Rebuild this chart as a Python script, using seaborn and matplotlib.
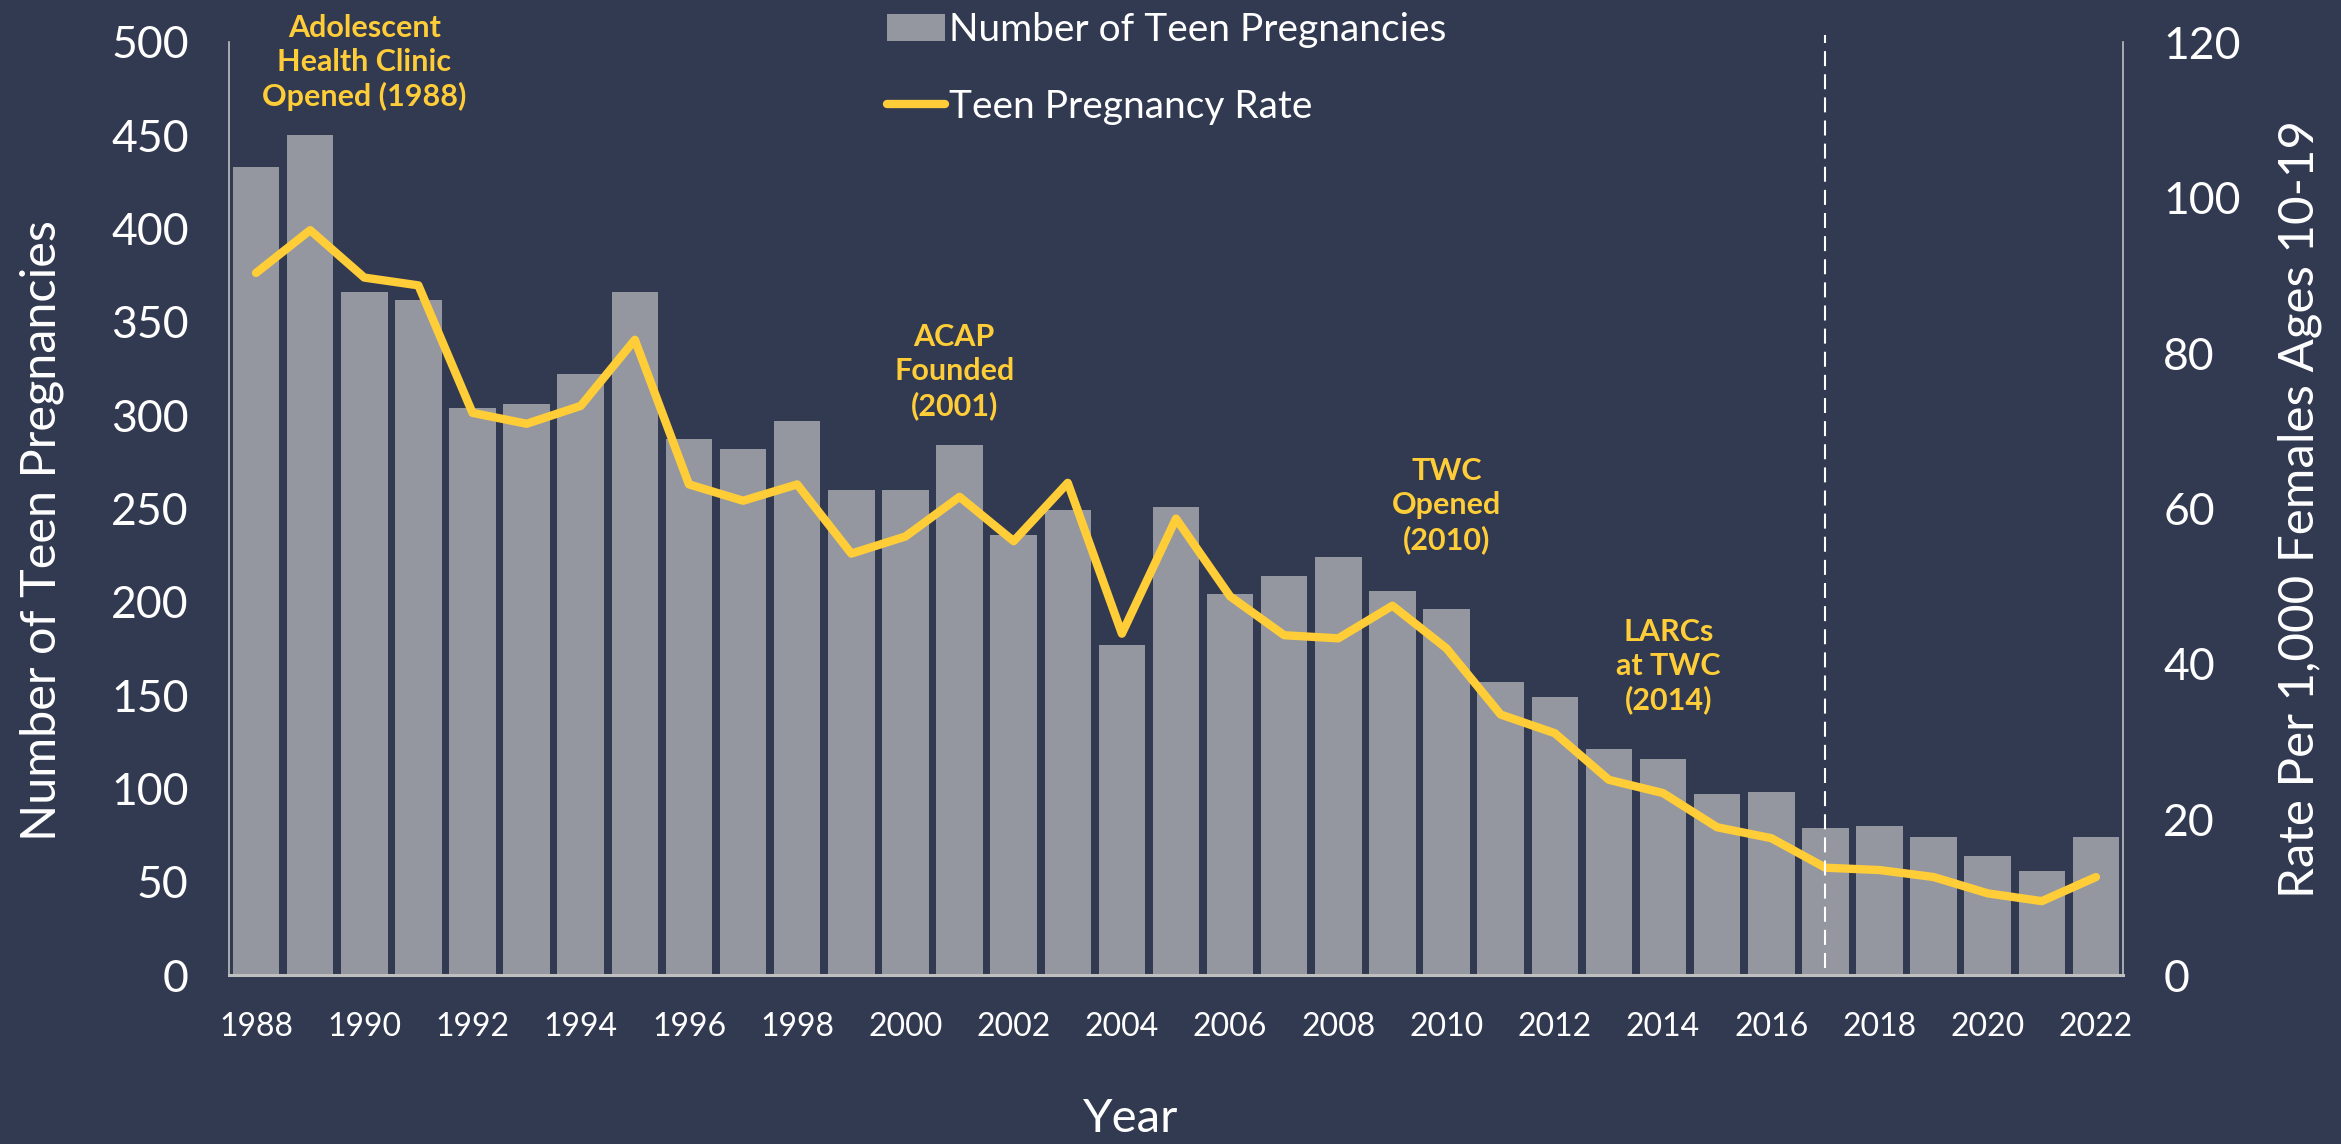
import matplotlib
matplotlib.use("Agg")
import matplotlib.pyplot as plt
import seaborn as sns
import numpy as np
import pandas as pd
from matplotlib.patches import Patch
from matplotlib.lines import Line2D

# ---------------- data ----------------
years = [1988, 1989, 1990, 1991, 1992, 1993, 1994, 1995, 1996, 1997, 1998, 1999,
         2000, 2001, 2002, 2003, 2004, 2005, 2006, 2007, 2008, 2009, 2010, 2011,
         2012, 2013, 2014, 2015, 2016, 2017, 2018, 2019, 2020, 2021, 2022]
pregnancies = [433, 450, 366, 362, 304, 306, 322, 366, 287, 282, 297, 260,
               260, 284, 236, 249, 177, 251, 204, 214, 224, 206, 196, 157,
               149, 121, 116, 97, 98, 79, 80, 74, 64, 56, 74]
rate = [90.3, 95.8, 89.7, 88.7, 72.3, 70.9, 73.2, 81.7, 63.1, 61.0, 63.1, 54.2,
        56.4, 61.5, 55.8, 63.3, 43.9, 58.7, 48.7, 43.7, 43.3, 47.5, 42.0, 33.5,
        31.1, 25.1, 23.4, 19.0, 17.6, 13.8, 13.5, 12.6, 10.5, 9.5, 12.6]
left_ticks = [0, 50, 100, 150, 200, 250, 300, 350, 400, 450, 500]
right_ticks = [0, 20, 40, 60, 80, 100, 120]
annotations = [
    ("Adolescent\nHealth Clinic\nOpened (1988)", 2.0, 489),
    ("ACAP\nFounded\n(2001)", 12.9, 323.5),
    ("TWC\nOpened\n(2010)", 22.0, 251.5),
    ("LARCs\nat TWC\n(2014)", 26.1, 165.5),
]
marker_year = 2017
legend_labels = ["Number of Teen Pregnancies", "Teen Pregnancy Rate"]

# ---------------- style ----------------
BG = "#323A51"
BAR = "#94979F"
YEL = "#FFCD38"
SPINE = "#BFBFBF"
WHITE = "#FFFFFF"

sns.set_theme(style="white")
plt.rcParams["font.family"] = ["Lato", "DejaVu Sans"]

df = pd.DataFrame({"year": years, "count": pregnancies, "rate": rate})
df["pos"] = np.arange(len(df))

fig = plt.figure(figsize=(23.41, 11.44), dpi=100, facecolor=BG)
ax = fig.add_axes([229 / 2341, 1 - 975 / 1144, (2123 - 229) / 2341, (975 - 42) / 1144])
ax.set_facecolor(BG)

sns.barplot(data=df, x="pos", y="count", color=BAR, width=0.86, saturation=1,
            ax=ax, zorder=2, edgecolor="none", linewidth=0)
ax.set_xlim(-0.5, len(years) - 0.5)
ax.set_ylim(0, 500)
ax.set_yticks(left_ticks)
ax.set_yticklabels([str(t) for t in left_ticks])
ax.set_xticks(df["pos"][::2])
ax.set_xticklabels([str(y) for y in years[::2]])
ax.tick_params(axis="y", length=0, pad=29, labelsize=32, labelcolor=WHITE)
ax.tick_params(axis="x", length=0, pad=27, labelsize=23, labelcolor=WHITE)

ax.set_xlabel("Year", fontsize=34, color=WHITE)
ax.xaxis.set_label_coords(0.476, -0.132)
ax.set_ylabel("Number of Teen Pregnancies", fontsize=35, color=WHITE)
ax.yaxis.set_label_coords(-0.087, 0.476)

ax.spines["top"].set_visible(False)
ax.spines["left"].set_color(SPINE)
ax.spines["left"].set_linewidth(1.2)
ax.spines["right"].set_color(SPINE)
ax.spines["right"].set_linewidth(1.2)
ax.spines["bottom"].set_color(SPINE)
ax.spines["bottom"].set_linewidth(2.2)

# annotations
for txt, xpos, ypos in annotations:
    ax.text(xpos, ypos, txt, ha="center", va="center", color=YEL, fontsize=22,
            fontweight="bold", linespacing=1.25, zorder=5, clip_on=False)

# secondary axis
ax2 = ax.twinx()
sns.lineplot(data=df, x="pos", y="rate", color=YEL, linewidth=6, ax=ax2,
             zorder=3, solid_capstyle="round", solid_joinstyle="round")
ax2.set_ylim(0, 120)
ax2.set_xlim(-0.5, len(years) - 0.5)
ax2.set_yticks(right_ticks)
ax2.set_yticklabels([str(t) for t in right_ticks])
ax2.tick_params(axis="y", length=0, pad=29, labelsize=32, labelcolor=WHITE)
ax2.set_ylabel("Rate Per 1,000 Females Ages 10-19", fontsize=35.5, color=WHITE)
ax2.yaxis.set_label_coords(1.0815, 0.5)
for s in ax2.spines.values():
    s.set_visible(False)

# dashed marker line at 2017
mpos = years.index(marker_year)
ax2.axvline(mpos, ymin=0.008, ymax=1.008, color=WHITE, lw=1.5,
            linestyle=(0, (7.2, 3.9)), zorder=6, clip_on=False)

# legend
handles = [Patch(facecolor=BAR, edgecolor="none"),
           Line2D([], [], color=YEL, lw=6, solid_capstyle="round")]
leg = fig.legend(handles, legend_labels, loc="upper left",
                 bbox_to_anchor=(887 / 2341, 1.0 - 12 / 1144), frameon=False,
                 fontsize=28, labelcolor=WHITE, handlelength=1.5,
                 handleheight=0.7, handletextpad=0.1, labelspacing=1.05,
                 borderpad=0.0, borderaxespad=0.0)

fig.savefig("out.png", dpi=100, facecolor=BG)
